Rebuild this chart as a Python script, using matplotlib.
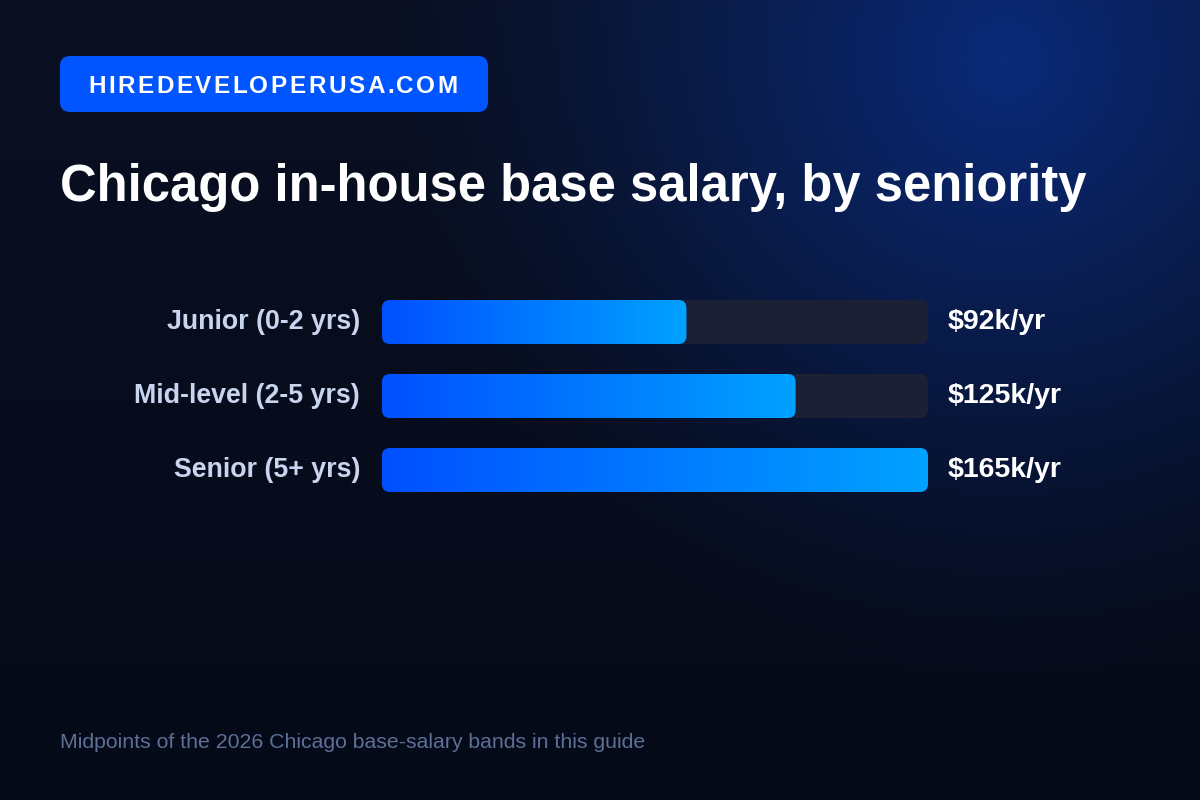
import numpy as np
import matplotlib.pyplot as plt
from matplotlib.colors import LinearSegmentedColormap, to_rgb
from matplotlib.patches import FancyBboxPatch

plt.rcParams['font.family'] = ['Liberation Sans', 'DejaVu Sans']

categories = ["Junior (0-2 yrs)", "Mid-level (2-5 yrs)", "Senior (5+ yrs)"]
salaries = [92, 125, 165]
value_labels = ["$92k/yr", "$125k/yr", "$165k/yr"]
badge_text = "HIREDEVELOPERUSA.COM"
title = "Chicago in-house base salary, by seniority"
footnote = "Midpoints of the 2026 Chicago base-salary bands in this guide"

W, H = 1200, 800
fig = plt.figure(figsize=(12, 8), dpi=100)

# background: dark navy, slightly darker toward the bottom, glow top right
bg = fig.add_axes([0, 0, 1, 1])
bg.set_xlim(0, W)
bg.set_ylim(H, 0)
bg.axis("off")
yy, xx = np.mgrid[0:H, 0:W]
top_c = np.array(to_rgb("#0a1022"))
bot_c = np.array(to_rgb("#050a18"))
v = (yy / H)[..., None]
base = top_c * (1 - v) + bot_c * v
glow = np.array(to_rgb("#0a2a7a"))
d = np.sqrt((xx - 1005) ** 2 + (yy - 60) ** 2)
w = (np.clip(1 - d / 620, 0, 1) ** 1.25)[..., None]
img = base * (1 - w) + glow * w
bg.imshow(img, extent=(0, W, H, 0), aspect="auto", zorder=0)

# badge
bg.add_patch(FancyBboxPatch((60, 56), 428, 56, boxstyle="round,pad=0,rounding_size=10",
                            fc="#0055ff", ec="none", zorder=2))
fig.canvas.draw()
r = fig.canvas.get_renderer()
tracking = 2.5
widths = []
for ch in badge_text:
    t = bg.text(0, 0, ch, fontsize=17.5, fontweight="bold")
    widths.append(t.get_window_extent(r).width)
    t.remove()
total = sum(widths) + tracking * (len(badge_text) - 1)
x = 273 - total / 2
for ch, cw in zip(badge_text, widths):
    bg.text(x, 93, ch, fontsize=17.5, fontweight="bold", color="white",
            va="baseline", ha="left", zorder=3)
    x += cw + tracking

bg.text(60, 201, title, fontsize=36.5, fontweight="bold", color="white",
        va="baseline", ha="left", zorder=3)
bg.text(60, 748, footnote, fontsize=15.3, color="#5d6f97",
        va="baseline", ha="left", zorder=3)

# bar axes
left, right = 382 / W, 928 / W
top, bottom = 285 / H, 507 / H
ax = fig.add_axes([left, 1 - bottom, right - left, bottom - top])
ax.axis("off")
ax.patch.set_alpha(0)

ypos = np.arange(len(categories))
bar_h = 44 / 74
cmap = LinearSegmentedColormap.from_list("bar", ["#0050ff", "#00a2ff"])
xunit = (928 - 382) / max(salaries)
rad = 8 / xunit
aspect = (1 / 74) / (1 / xunit)

bars = ax.barh(ypos, salaries, height=bar_h, color="none")
for i, b in enumerate(bars):
    y0 = b.get_y()
    track = FancyBboxPatch((0, y0), max(salaries), bar_h,
                           boxstyle=f"round,pad=0,rounding_size={rad}",
                           mutation_aspect=aspect, fc="#1b2034", ec="none", zorder=1)
    ax.add_patch(track)
    clip = FancyBboxPatch((0, y0), b.get_width(), bar_h,
                          boxstyle=f"round,pad=0,rounding_size={rad}",
                          mutation_aspect=aspect, fc="none", ec="none", zorder=2)
    ax.add_patch(clip)
    grad = np.linspace(0, 1, 256)[None, :]
    im = ax.imshow(grad, cmap=cmap, extent=(0, b.get_width(), y0 + bar_h, y0),
                   aspect="auto", zorder=2, interpolation="bicubic")
    im.set_clip_path(clip)
    ax.text(-22 / xunit, ypos[i], categories[i], fontsize=19.3, fontweight="bold",
            color="#c9d4ee", ha="right", va="center")
    ax.text(max(salaries) + 20 / xunit, ypos[i], value_labels[i], fontsize=20.5,
            fontweight="bold", color="white", ha="left", va="center")
ax.set_xlim(0, max(salaries))
ax.set_ylim(len(categories) - 0.5, -0.5)

fig.savefig("out.png", dpi=100)
